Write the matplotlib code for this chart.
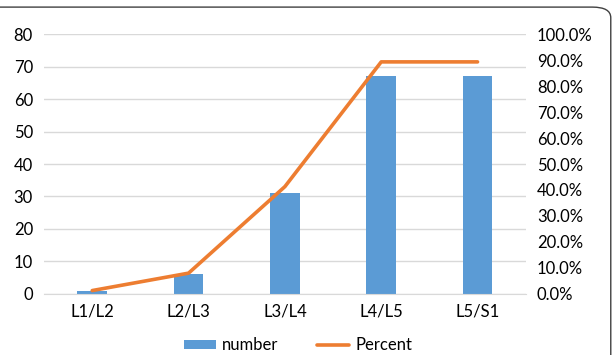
import matplotlib.pyplot as plt
from matplotlib.patches import FancyBboxPatch
from matplotlib.ticker import PercentFormatter

# segments and counts
levels = ["L1/L2", "L2/L3", "L3/L4", "L4/L5", "L5/S1"]
number = [1, 6, 31, 67, 67]
# share of the 75 patients, in %
percent = [1.3, 8.0, 41.3, 89.3, 89.3]

plt.rcParams['font.family'] = ['Lato', 'DejaVu Sans']

fig = plt.figure(figsize=(6.12, 3.55), dpi=100)
ax = fig.add_axes([0.072, 0.172, 0.787, 0.732])

# outer frame, only the top and right edges show
frame = FancyBboxPatch((-0.05, -0.05), 1.048, 1.03, transform=fig.transFigure,
                       boxstyle="round,pad=0,rounding_size=0.03",
                       facecolor="none", edgecolor="#404040", linewidth=1.0,
                       clip_on=False)
fig.patches.append(frame)

x = range(len(levels))
ax.bar(x, number, width=0.31, color="#5B9BD5", label="number", zorder=2)
ax.set_ylim(0, 80)
ax.set_yticks(range(0, 81, 10))
ax.set_xlim(-0.5, 4.5)
ax.set_xticks(list(x))
ax.set_xticklabels(levels)
ax.grid(axis="y", color="#D9D9D9", linewidth=1.0, zorder=0)
ax.set_axisbelow(True)
for s in ["top", "right", "left"]:
    ax.spines[s].set_visible(False)
ax.spines["bottom"].set_color("#D9D9D9")
ax.tick_params(axis="both", length=0, labelsize=12, colors="#000000")
ax.tick_params(axis="y", pad=8)
ax.tick_params(axis="x", pad=7)

ax2 = ax.twinx()
ax2.plot(x, percent, color="#ED7D31", linewidth=2.6, label="Percent",
         solid_capstyle="round", zorder=3)
ax2.set_ylim(0, 100)
ax2.set_yticks(range(0, 101, 10))
ax2.yaxis.set_major_formatter(PercentFormatter(decimals=1))
for s in ["top", "right", "left", "bottom"]:
    ax2.spines[s].set_visible(False)
ax2.tick_params(axis="y", length=0, labelsize=12, pad=8)

h1, l1 = ax.get_legend_handles_labels()
h2, l2 = ax2.get_legend_handles_labels()
fig.legend(h1 + h2, l1 + l2, loc="center", bbox_to_anchor=(0.487, 0.027),
           ncol=2, frameon=False, fontsize=12, handlelength=1.9,
           handleheight=0.45, columnspacing=2.3, handletextpad=0.4)

fig.savefig("out.png", dpi=100)
